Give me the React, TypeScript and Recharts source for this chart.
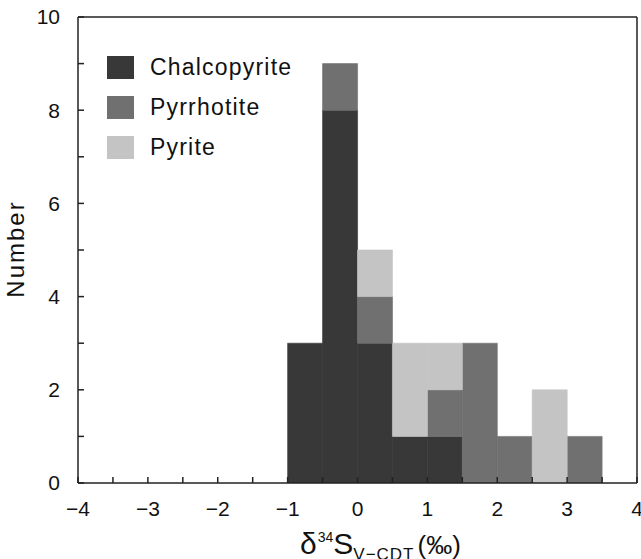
import { BarChart, Bar, XAxis, YAxis } from 'recharts';

// histogram bins, 0.5 wide, labelled by their lower edge
const binStarts = [-4, -3.5, -3, -2.5, -2, -1.5, -1, -0.5, 0, 0.5, 1, 1.5, 2, 2.5, 3, 3.5];
const chalcopyrite = [0, 0, 0, 0, 0, 0, 3, 8, 3, 1, 1, 0, 0, 0, 0, 0];
const pyrrhotite = [0, 0, 0, 0, 0, 0, 0, 1, 1, 0, 1, 3, 1, 0, 1, 0];
const pyrite = [0, 0, 0, 0, 0, 0, 0, 0, 1, 2, 1, 0, 0, 2, 0, 0];
const binWidth = 0.5;

const xTicks = [-4, -3.5, -3, -2.5, -2, -1.5, -1, -0.5, 0, 0.5, 1, 1.5, 2, 2.5, 3, 3.5, 4];
const yTicks = [0, 1, 2, 3, 4, 5, 6, 7, 8, 9, 10];

const series = [
  { key: 'chalcopyrite', name: 'Chalcopyrite', color: '#383838' },
  { key: 'pyrrhotite', name: 'Pyrrhotite', color: '#707070' },
  { key: 'pyrite', name: 'Pyrite', color: '#c4c4c4' },
];

const data = binStarts.map((b, i) => ({
  mid: b + binWidth / 2,
  chalcopyrite: chalcopyrite[i],
  pyrrhotite: pyrrhotite[i],
  pyrite: pyrite[i],
}));

const FONT = '"Liberation Sans", Arial, sans-serif';
const AXIS = '#222';

const fmtX = (v: number) => (Number.isInteger(v) ? (v < 0 ? '\u2212' + Math.abs(v) : String(v)) : '');
const fmtY = (v: number) => (v % 2 === 0 ? String(v) : '');

const App = () => {
  return (
    <div style={{ position: 'absolute', left: 0, top: 0, width: 641, height: 559, background: '#fff', fontFamily: FONT, overflow: 'hidden' }}>
      <BarChart
        width={641}
        height={559}
        data={data}
        margin={{ top: 0, right: 0, left: 0, bottom: 0 }}
        barCategoryGap={0}
        barGap={0}
      >
        <XAxis
          xAxisId="num"
          dataKey="mid"
          type="number"
          domain={[-4, 4]}
          allowDataOverflow
          ticks={xTicks}
          interval={0}
          tickFormatter={fmtX}
          height={76}
          tickSize={-6}
          tickMargin={24}
          stroke={AXIS}
          strokeWidth={1.5}
          tick={{ fill: '#111', fontSize: 21, fontFamily: FONT }}
        />
        <XAxis
          xAxisId="top"
          orientation="top"
          type="number"
          domain={[-4, 4]}
          allowDataOverflow
          height={17}
          tick={false}
          tickLine={false}
          stroke={AXIS}
          strokeWidth={1.5}
        />
        <YAxis
          yAxisId="left"
          domain={[0, 10]}
          allowDataOverflow
          ticks={yTicks}
          interval={0}
          tickFormatter={fmtY}
          width={78}
          tickSize={-6}
          tickMargin={24}
          stroke={AXIS}
          strokeWidth={1.5}
          tick={{ fill: '#111', fontSize: 21, fontFamily: FONT }}
        />
        <YAxis
          yAxisId="right"
          orientation="right"
          domain={[0, 10]}
          width={4}
          tick={false}
          tickLine={false}
          stroke={AXIS}
          strokeWidth={1.5}
        />
        {series.map((s) => (
          <Bar
            key={s.key}
            xAxisId="num"
            yAxisId="left"
            dataKey={s.key}
            name={s.name}
            stackId="a"
            fill={s.color}
            stroke={s.color}
            strokeWidth={0.6}
            isAnimationActive={false}
          />
        ))}
      </BarChart>
      <div style={{ position: 'absolute', left: 107, top: 47 }}>
        {series.map((s) => (
          <div key={s.key} style={{ display: 'flex', alignItems: 'center', height: 40 }}>
            <div style={{ width: 27, height: 23, background: s.color, marginRight: 16 }} />
            <span style={{ fontSize: 23, letterSpacing: 1.2, color: '#111' }}>{s.name}</span>
          </div>
        ))}
      </div>
      <div
        style={{
          position: 'absolute',
          left: 16,
          top: 249,
          transform: 'translate(-50%, -50%) rotate(-90deg)',
          fontSize: 24,
          letterSpacing: 2,
          color: '#111',
          whiteSpace: 'nowrap',
        }}
      >
        Number
      </div>
      <div
        style={{
          position: 'absolute',
          left: 300,
          top: 529,
          color: '#111',
          whiteSpace: 'nowrap',
          fontSize: 30,
          lineHeight: '30px',
        }}
      >
        δ
        <span style={{ fontSize: 14, position: 'relative', top: -12, marginLeft: 1 }}>34</span>
        S
        <span style={{ fontSize: 17, letterSpacing: 1, position: 'relative', top: 6 }}>V−CDT</span>
        <span style={{ fontSize: 26, marginLeft: 3 }}>(‰)</span>
      </div>
    </div>
  );
};

export default App;
